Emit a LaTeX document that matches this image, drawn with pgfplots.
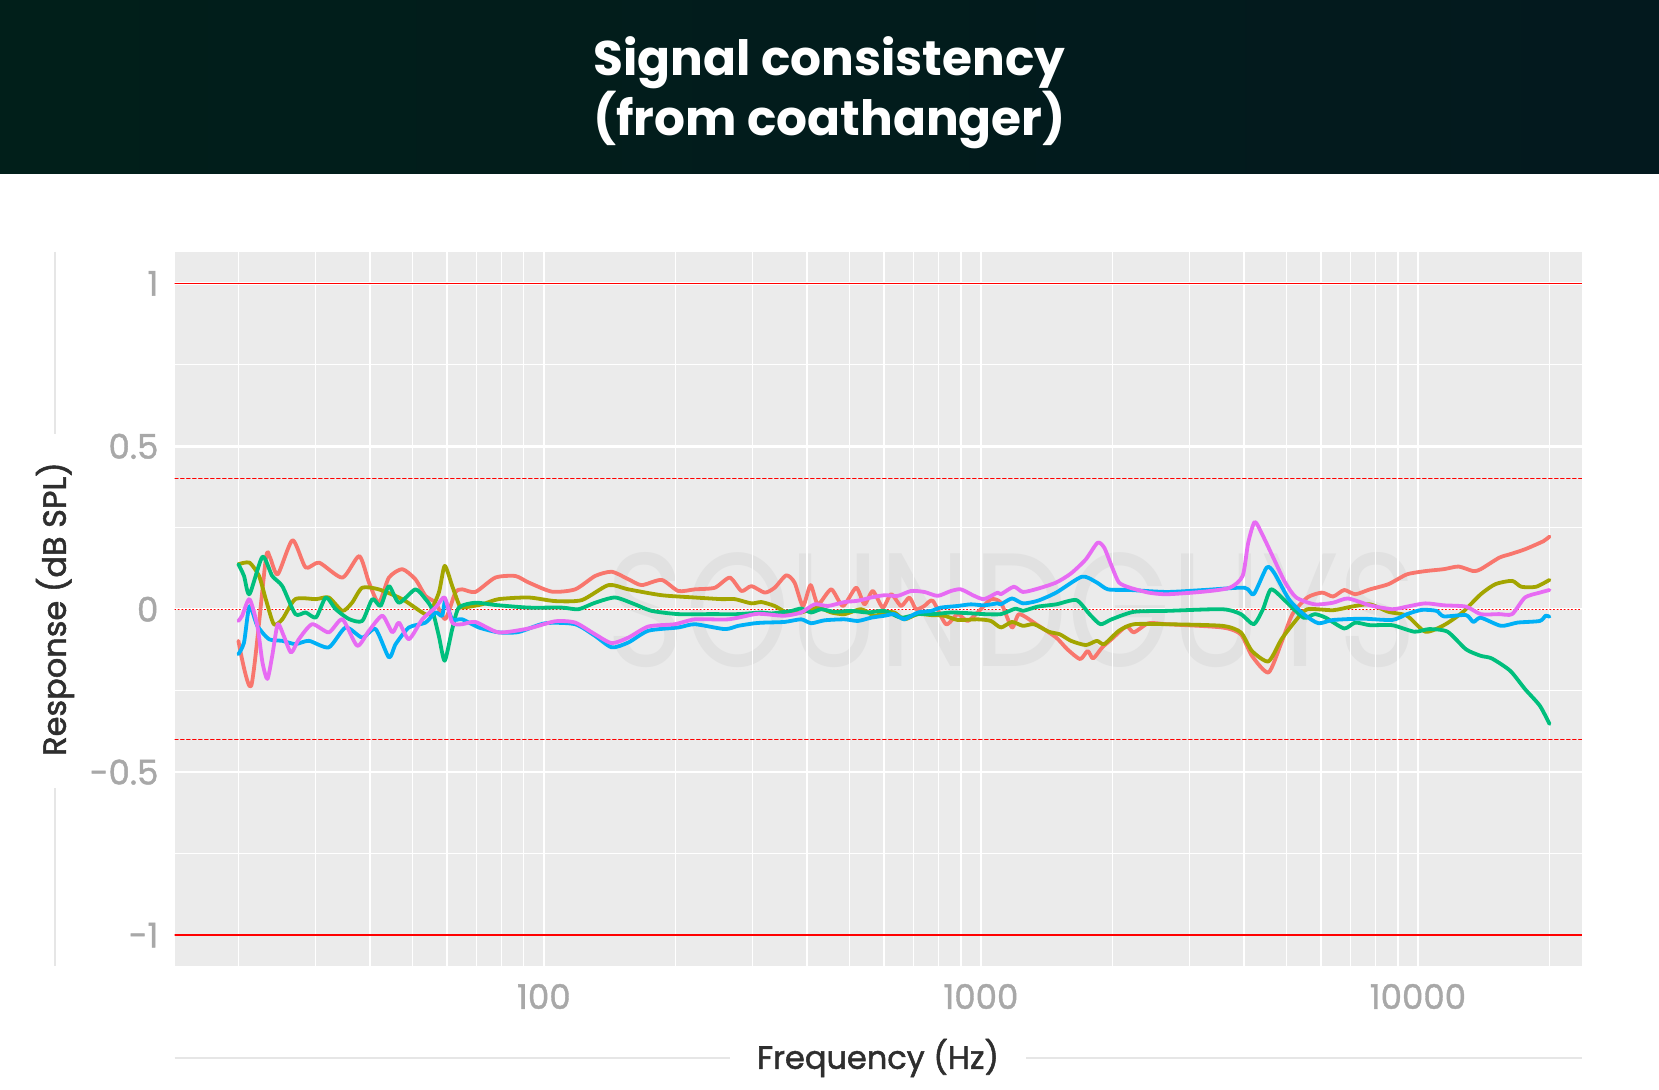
\documentclass[border=0pt]{standalone}
\usepackage{fontspec}
\setmainfont{Poppins}
\newfontfamily\popmed[FakeBold=1.2]{Poppins}
\newfontfamily\poplab[FakeBold=1.6]{Poppins}
\usepackage{graphicx}
\usepackage{pgfplots}
\pgfplotsset{compat=1.18}
\definecolor{tbgL}{HTML}{011F1A}
\definecolor{tbgR}{HTML}{03191E}
\definecolor{panel}{HTML}{EBEBEB}
\definecolor{wm}{HTML}{E1E1E1}
\definecolor{tick}{HTML}{A8A8A8}
\definecolor{lab}{HTML}{2E2E2E}
\definecolor{deco}{HTML}{E6E6E6}
\definecolor{cR}{HTML}{F8766D}
\definecolor{cO}{HTML}{A3A500}
\definecolor{cG}{HTML}{00BF7D}
\definecolor{cB}{HTML}{00B0F6}
\definecolor{cP}{HTML}{E76BF3}
\begin{document}
\begin{tikzpicture}
\path[use as bounding box] (0,0) rectangle (829.5pt,544.5pt);
\fill[white] (0,0) rectangle (829.5pt,544.5pt);
\shade[left color=tbgL, right color=tbgR] (0,457.5pt) rectangle (829.5pt,544.5pt);
\node[anchor=base, text=white, font=\bfseries\fontsize{24.3}{30}\selectfont] at (414.75pt,506.5pt) {Signal consistency};
\node[anchor=base, text=white, font=\bfseries\fontsize{24.3}{30}\selectfont] at (414.75pt,476.8pt) {(from coathanger)};
\fill[panel] (87.3pt,61.5pt) rectangle (790.9pt,418.6pt);
\node[text=wm, inner sep=0pt] at (506pt,239.5pt) {\resizebox{405pt}{57pt}{SOUNDGUYS}};
\begin{axis}[
  at={(87.3pt,61.5pt)}, anchor=south west, scale only axis,
  width=703.6pt, height=357.1pt,
  xmode=log, xmin=14.29, xmax=23714, ymin=-1.095, ymax=1.097,
  axis line style={draw=none},
  major tick length=0pt, minor tick length=0pt,
  xtick={100,1000,10000}, xticklabels={100,1000,10000},
  minor xtick={20,30,40,50,60,70,80,90,200,300,400,500,600,700,800,900,2000,3000,4000,5000,6000,7000,8000,9000,20000},
  ytick={-1,-0.5,0,0.5,1}, yticklabels={-1,-0.5,0,0.5,1},
  minor ytick={-0.75,-0.25,0.25,0.75},
  xmajorgrids, ymajorgrids, xminorgrids, yminorgrids,
  major grid style={white, line width=1.2pt},
  minor grid style={white, line width=0.6pt},
  tick label style={text=tick, font=\popmed\fontsize{17}{20}\selectfont, inner sep=0pt},
  yticklabel style={anchor=east}, yticklabel shift=7.9pt,
  xticklabel style={anchor=north}, xticklabel shift=8.8pt,
  every axis plot/.append style={line join=round, line cap=round},
]
\addplot[red, line width=0.6pt] coordinates {(14.29,1) (23714,1)};
\addplot[red, line width=0.6pt] coordinates {(14.29,-1) (23714,-1)};
\addplot[red, line width=0.5pt, dash pattern=on 1.7pt off 1.3pt] coordinates {(14.29,0.4) (23714,0.4)};
\addplot[red, line width=0.5pt, dash pattern=on 1.7pt off 1.3pt] coordinates {(14.29,-0.4) (23714,-0.4)};
\addplot[red, line width=0.5pt, dash pattern=on 0.5pt off 1.3pt] coordinates {(14.29,0) (23714,0)};
% red
\addplot[cR, line width=1.9pt, smooth, tension=0.4] coordinates {
(20.0,-0.097) (21.4,-0.235) (23.1,0.153) (23.6,0.16) (24.6,0.107) (26.6,0.212) (28.5,0.128) (30.6,0.143) (34.6,0.097) (37.8,0.163) (39.8,0.082) (41.9,0.02) (44.2,0.097) (47.4,0.123) (50.8,0.092) (53.6,0.041) (56.5,0.02) (59.5,-0.03) (62.7,0.051)
(65.0,0.061) (69.7,0.053) (77.4,0.097) (86.0,0.102) (92.3,0.082) (104.3,0.054) (117.9,0.061) (131.0,0.102) (143.0,0.115) (156.1,0.092) (167.4,0.074) (186.0,0.09) (203.0,0.056) (221.5,0.061) (246.1,0.066) (266.3,0.097) (283.2,0.056) (298.5,0.071)
(320.2,0.051) (337.3,0.066) (358.6,0.104) (374.6,0.082) (391.6,0.01) (407.6,0.074) (423.8,0.015) (454.5,0.061) (483.4,0.01) (518.3,0.066) (541.5,0.015) (565.8,0.056) (596.5,0.005) (623.1,0.046) (656.8,0.01) (686.1,0.036) (710.7,0) (742.4,0.01) (775.9,0.026) (832.2,-0.046) (884.9,-0.015) (932.6,-0.036) (1000,0) (1054,0.031)
(1111,0.02) (1178,-0.056) (1224,-0.015) (1349,-0.049) (1487,-0.087) (1577,-0.123) (1687,-0.153) (1755,-0.128) (1806,-0.151) (1896,-0.117) (1991,-0.092) (2152,-0.053) (2238,-0.071) (2419,-0.043) (2666,-0.046) (3568,-0.056) (3933,-0.077) (4170,-0.143) (4550,-0.194) (4873,-0.102) (5164,-0.015) (5583,0.036) (6034,0.051) (6396,0.039) (6781,0.059) (7189,0.046) (7770,0.061) (8563,0.077) (9438,0.107) (10400,0.117) (11465,0.123) (12390,0.131) (13389,0.117) (13925,0.123) (15339,0.158) (16265,0.169) (17579,0.184) (19383,0.209) (20000,0.223)
};
% olive
\addplot[cO, line width=1.9pt, smooth, tension=0.4] coordinates {
(20.0,0.138) (21.2,0.143) (22.3,0.102) (23.1,0.031) (24.1,-0.046) (25.2,-0.031) (27.0,0.031) (30.1,0.031) (32.2,0.036) (34.6,-0.005) (36.4,0.02) (38.4,0.066) (41.9,0.061) (47.4,0.031) (52.7,-0.01) (54.6,-0.015) (57.5,0.051) (59.3,0.133) (61.7,0.071) (63.9,0.015)
(65.0,0.005) (72.2,0.015) (78.8,0.031) (92.3,0.036) (106.1,0.025) (122.1,0.028) (140.5,0.074) (156.1,0.061) (186.0,0.043) (221.5,0.036) (254.9,0.031) (273.4,0.031) (298.5,0.018)
(314.6,0.022) (337.3,0.01) (361.9,-0.012) (388,-0.01) (423.8,0.005) (454.5,-0.01) (487.5,-0.015) (532,0) (570.8,-0.02) (601.5,-0.01) (634,-0.01) (668,-0.031) (717,-0.015) (769,-0.018) (825,-0.02) (885,-0.033) (983,-0.031) (1054,-0.036)
(1111,-0.056) (1178,-0.039) (1248,-0.051) (1323,-0.046) (1430,-0.069) (1516,-0.077) (1608,-0.097) (1738,-0.110) (1842,-0.097) (1915,-0.107) (2070,-0.066) (2238,-0.046) (2666,-0.046) (3568,-0.051) (3933,-0.071) (4170,-0.128) (4550,-0.160) (4873,-0.092) (5266,-0.033) (5583,0) (6396,-0.003) (7050,0.008) (7770,0.015) (8563,-0.008) (9438,-0.02) (10400,-0.069) (11465,-0.049) (12636,-0.01) (13925,0.046) (15045,0.077) (16427,0.087) (17239,0.069) (18640,0.069) (20000,0.09)
};
% green
\addplot[cG, line width=1.9pt, smooth, tension=0.4] coordinates {
(20.0,0.138) (20.6,0.102) (21.2,0.046) (22.7,0.161) (23.9,0.102) (25.2,0.071) (27.0,-0.015) (28.5,-0.01) (30.1,-0.025) (31.7,0.036) (33.4,0.0) (35.8,-0.03) (38.4,-0.036) (40.5,0.031) (42.3,0.01) (44.2,0.071) (46.6,0.02) (50.8,0.061) (53.6,0.031) (55.5,0) (57.5,-0.082) (59.3,-0.158) (61.7,-0.061) (63.9,0.005)
(69.7,0.02) (77.4,0.013) (92.3,0.005) (109.9,0.005) (120,0) (131.0,0.02) (145.5,0.036) (161.6,0.015) (176.4,-0.005) (203,-0.015) (241.9,-0.015) (278.3,-0.015) (314.6,-0.01)
(331.6,-0.013) (368.4,-0.005) (388,0.002) (409,-0.01) (431,0) (462,-0.008) (505,-0.005) (551,-0.01) (601.5,-0.005) (656.8,-0.026) (717,-0.015) (782,-0.015) (854,-0.01) (932.6,-0.012) (1017,-0.015)
(1111,-0.015) (1201,0.002) (1248,-0.005) (1349,0.008) (1487,0.015) (1654,0.028) (1772,-0.015) (1877,-0.046) (1991,-0.031) (2238,-0.008) (2666,-0.005) (3568,0) (3933,-0.015) (4209,-0.046) (4420,0) (4612,0.061) (4968,0.026) (5475,-0.026) (5804,-0.015) (6152,-0.026) (6781,-0.059) (7189,-0.041) (7770,-0.049) (8732,-0.049) (9812,-0.069) (10607,-0.061) (11690,-0.069) (12882,-0.123) (13925,-0.143) (14754,-0.151) (16265,-0.189) (17579,-0.245) (19007,-0.296) (20000,-0.352)
};
% blue
\addplot[cB, line width=1.9pt, smooth, tension=0.4] coordinates {
(20.0,-0.138) (20.6,-0.102) (21.2,0.01) (22.1,-0.051) (23.5,-0.092) (25.2,-0.097) (27.0,-0.107) (29.0,-0.097) (32.2,-0.117) (35.2,-0.056) (38.4,-0.087) (41.2,-0.061) (44.2,-0.148) (45.8,-0.107) (49.1,-0.056) (53.6,-0.041) (56.5,-0.01) (58.5,-0.02) (59.5,0.026) (61.7,-0.031)
(65.0,-0.031) (71.0,-0.056) (78.8,-0.071) (87.5,-0.07) (100.7,-0.043) (117.9,-0.046) (131.0,-0.082) (143.0,-0.117) (156.1,-0.102) (173.4,-0.066) (203.0,-0.056) (221.5,-0.046) (259.4,-0.061) (278.3,-0.051) (303.8,-0.043)
(320.2,-0.041) (355.4,-0.039) (388,-0.031) (409,-0.043) (438.8,-0.034) (487.5,-0.031) (522.8,-0.036) (560.9,-0.026) (601.5,-0.02) (634,-0.015) (668,-0.031) (717,-0.01) (769,-0.005) (810,0.005) (885,0.01) (949,0.015) (1017,0.012) (1092,0.018)
(1111,0.015) (1178,0.033) (1248,0.018) (1349,0.026) (1487,0.051) (1704,0.1) (1842,0.082) (1953,0.061) (2194,0.059) (2666,0.053) (3238,0.059) (4010,0.066) (4209,0.046) (4508,0.128) (4687,0.112) (5066,0.031) (5475,-0.015) (5918,-0.043) (6396,-0.033) (7472,-0.029) (8732,-0.033) (9438,-0.015) (10200,-0.002) (11027,-0.005) (11465,-0.022) (12882,-0.018) (13389,-0.039) (13925,-0.026) (15495,-0.051) (16905,-0.041) (19007,-0.036) (19600,-0.02) (20000,-0.023)
};
% pink
\addplot[cP, line width=1.9pt, smooth, tension=0.4] coordinates {
(20.0,-0.036) (20.4,-0.02) (21.2,0.031) (22.1,-0.051) (22.7,-0.163) (23.3,-0.214) (23.9,-0.143) (24.6,-0.046) (25.4,-0.082) (26.4,-0.133) (27.5,-0.092) (29.5,-0.046) (32.2,-0.071) (34.6,-0.031) (37.4,-0.112) (39.8,-0.066) (42.7,-0.02) (45.0,-0.071) (46.6,-0.041) (49.1,-0.092) (52.7,-0.031) (56.5,0.005) (59.3,0.036) (61.7,-0.041)
(65.0,-0.046) (69.7,-0.039) (78.8,-0.071) (92.3,-0.059) (106.1,-0.037) (117.9,-0.041) (131.0,-0.077) (143.0,-0.104) (156.1,-0.087) (173.4,-0.053) (199.4,-0.046) (221.5,-0.031) (264.1,-0.031) (303.8,-0.015)
(320.2,-0.015) (355.4,-0.02) (388,-0.01) (416.4,0.015) (446.7,0.01) (487.5,0.022) (522.8,0.026) (560.9,0.036) (601.5,0.043) (645.4,0.041) (692.1,0.056) (742.4,0.053) (796.4,0.041) (854,0.056) (900,0.061) (965.4,0.041) (1017,0.031) (1092,0.051)
(1111,0.046) (1189,0.069) (1248,0.053) (1349,0.063) (1487,0.082) (1608,0.110) (1738,0.153) (1849,0.204) (1915,0.189) (1991,0.133) (2070,0.082) (2194,0.066) (2419,0.051) (2666,0.046) (3238,0.054) (3710,0.066) (3971,0.102) (4089,0.204) (4233,0.268) (4420,0.225) (4687,0.153) (4968,0.082) (5266,0.036) (5804,0.015) (6396,0.02) (6914,0.033) (7770,0.012) (8732,0) (9438,0.008) (10400,0.018) (11465,0.012) (12882,0.008) (13925,-0.015) (15339,-0.015) (16427,-0.015) (17579,0.036) (19007,0.051) (20000,0.059)
};
\end{axis}
\draw[deco, line width=1pt] (27.5pt,418.6pt) -- (27.5pt,327.6pt);
\draw[deco, line width=1pt] (27.5pt,150.5pt) -- (27.5pt,61.5pt);
\draw[deco, line width=1pt] (87.3pt,15.5pt) -- (365pt,15.5pt);
\draw[deco, line width=1pt] (513pt,15.5pt) -- (790.9pt,15.5pt);
\node[rotate=90, text=lab, font=\poplab\fontsize{16}{19}\selectfont] at (27.5pt,240pt) {Response (dB SPL)};
\node[text=lab, font=\poplab\fontsize{16}{19}\selectfont] at (439pt,15.5pt) {Frequency (Hz)};
\end{tikzpicture}
\end{document}
